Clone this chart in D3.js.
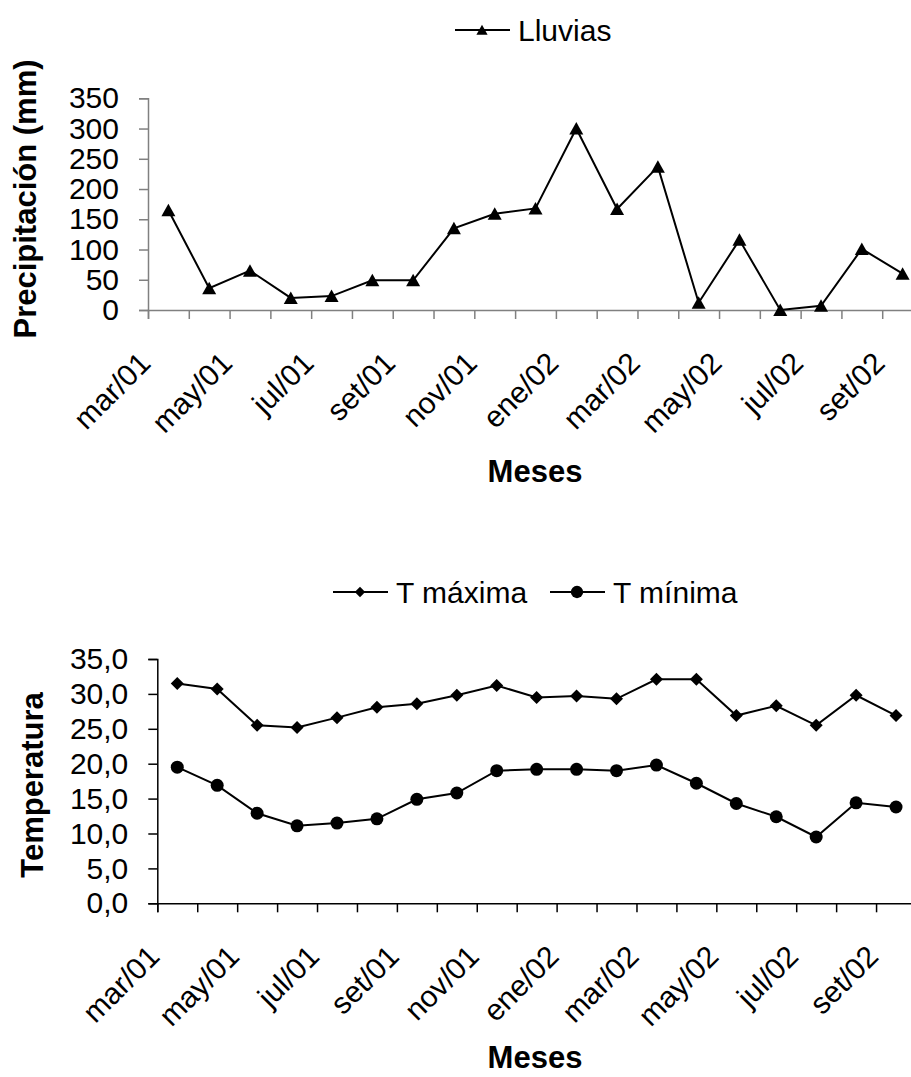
<!DOCTYPE html>
<html>
<head>
<meta charset="utf-8">
<script src="https://cdn.jsdelivr.net/npm/d3@7/dist/d3.min.js"></script>
<style>
  body { margin: 0; background: #fff; }
  svg { display: block; font-family: "Liberation Sans", Arial, sans-serif; }
</style>
</head>
<body>
<svg id="chart" width="911" height="1077"></svg>
<script>
// months on the x axis (only every other one gets a label)
const months = ["mar/01", "abr/01", "may/01", "jun/01", "jul/01", "ago/01", "set/01", "oct/01", "nov/01", "dic/01",
    "ene/02", "feb/02", "mar/02", "abr/02", "may/02", "jun/02", "jul/02", "ago/02", "set/02"];

// precipitation in mm
const lluvias = [165, 36, 65, 20, 23, 49, 49, 135, 159, 168, 300, 167, 237, 12, 116, 0, 7, 101, 60];

// temperatures
const tMaxima = [31.5, 30.7, 25.5, 25.2, 26.6, 28.1, 28.6, 29.8, 31.2, 29.5, 29.7, 29.3, 32.1, 32.1, 26.9, 28.3, 25.5, 29.8, 26.9];
const tMinima = [19.5, 16.9, 12.9, 11.1, 11.5, 12.1, 14.9, 15.8, 19.0, 19.2, 19.2, 19.0, 19.8, 17.2, 14.3, 12.4, 9.5, 14.4, 13.8];

const precipTicks = [0, 50, 100, 150, 200, 250, 300, 350];
const tempTicks = [0, 5, 10, 15, 20, 25, 30, 35];

let svg = d3.select("#chart");

// marker shapes
function markerPath(shape) {
    if (shape === "triangle") return "M0,-6.5L7,6L-7,6Z";
    if (shape === "diamond") return "M0,-6.5L6.5,0L0,6.5L-6.5,0Z";
    return d3.symbol().type(d3.symbolCircle).size(Math.PI * 6.5 * 6.5)();
}

function drawPanel(p) {
    let g = svg.append("g");

    let x = d3.scaleBand().domain(months).range([p.left, p.right]);
    let xTicks = d3.scaleLinear().domain([0, months.length]).range([p.left, p.right]);
    let y = d3.scaleLinear().domain([0, p.yMax]).range([p.bottom, p.top]);

    // x axis: tick marks between categories
    let xAxis = d3.axisBottom(xTicks)
        .tickValues(d3.range(months.length + 1))
        .tickSize(9)
        .tickFormat("");
    g.append("g")
        .attr("transform", "translate(0," + p.bottom + ")")
        .call(xAxis)
        .call(a => a.select(".domain").attr("stroke", p.axisColor).attr("stroke-width", 1.5))
        .call(a => a.selectAll(".tick line").attr("stroke", p.axisColor).attr("stroke-width", 1.5));

    // rotated month labels
    g.selectAll(".mlabel")
        .data(months.filter((d, i) => i % 2 === 0))
        .enter().append("text")
        .attr("class", "mlabel")
        .attr("transform", d => "translate(" + (x(d) + x.bandwidth() / 2 - 16) + "," + (p.bottom + 55) + ") rotate(-45)")
        .attr("text-anchor", "end")
        .style("font-size", "30px")
        .text(d => d);

    // y axis
    let yAxis = d3.axisLeft(y)
        .tickValues(p.yTicks)
        .tickSize(9)
        .tickPadding(20)
        .tickFormat(p.format);
    g.append("g")
        .attr("transform", "translate(" + p.left + ",0)")
        .call(yAxis)
        .call(a => a.select(".domain").attr("stroke", p.axisColor).attr("stroke-width", 1.5))
        .call(a => a.selectAll(".tick line").attr("stroke", p.axisColor).attr("stroke-width", 1.5))
        .call(a => a.selectAll(".tick text")
            .style("font-size", "30px")
            .attr("fill", "#000")
            .style("font-family", "'Liberation Sans', Arial, sans-serif"));

    // series
    let line = d3.line()
        .x((d, i) => x(months[i]) + x.bandwidth() / 2)
        .y(d => y(d));

    p.series.forEach(function (s) {
        g.append("path")
            .datum(s.values)
            .attr("fill", "none")
            .attr("stroke", "#000")
            .attr("stroke-width", 2)
            .attr("d", line);

        g.selectAll(null)
            .data(s.values)
            .enter().append("path")
            .attr("d", markerPath(s.shape))
            .attr("transform", (d, i) => "translate(" + (x(months[i]) + x.bandwidth() / 2) + "," + y(d) + ")")
            .attr("fill", "#000");
    });

    // axis titles
    g.append("text")
        .attr("transform", "translate(" + p.yTitleX + "," + p.yTitleY + ") rotate(-90)")
        .attr("text-anchor", "middle")
        .style("font-size", "31px")
        .style("font-weight", "bold")
        .text(p.yTitle);

    g.append("text")
        .attr("x", 535)
        .attr("y", p.xTitleY)
        .attr("text-anchor", "middle")
        .style("font-size", "31px")
        .style("font-weight", "bold")
        .text("Meses");

    // legend
    p.legend.forEach(function (l) {
        g.append("line")
            .attr("x1", l.x).attr("x2", l.x + 55)
            .attr("y1", p.legendY).attr("y2", p.legendY)
            .attr("stroke", "#000").attr("stroke-width", 2);
        g.append("path")
            .attr("d", markerPath(l.shape))
            .attr("transform", "translate(" + (l.x + 27) + "," + p.legendY + ")" + (l.shape === "circle" ? " scale(0.95)" : " scale(0.8)"))
            .attr("fill", "#000");
        g.append("text")
            .attr("x", l.x + 63)
            .attr("y", p.legendY + 11)
            .style("font-size", "30px")
            .text(l.name);
    });
}

let commaFormat = d => d3.format(".1f")(d).replace(".", ",");

drawPanel({
    left: 148, right: 923, top: 98.3, bottom: 310,
    yMax: 350, yTicks: precipTicks, format: d3.format("d"),
    axisColor: "#808080",
    yTitle: "Precipitación (mm)", yTitleX: 36, yTitleY: 199,
    xTitleY: 482,
    legendY: 30,
    legend: [{ name: "Lluvias", shape: "triangle", x: 455 }],
    series: [{ values: lluvias, shape: "triangle" }]
});

drawPanel({
    left: 157.3, right: 916, top: 659, bottom: 903.3,
    yMax: 35, yTicks: tempTicks, format: commaFormat,
    axisColor: "#000",
    yTitle: "Temperatura", yTitleX: 43, yTitleY: 785,
    xTitleY: 1068,
    legendY: 592,
    legend: [{ name: "T máxima", shape: "diamond", x: 333 }, { name: "T mínima", shape: "circle", x: 550 }],
    series: [{ values: tMaxima, shape: "diamond" }, { values: tMinima, shape: "circle" }]
});
</script>
</body>
</html>
